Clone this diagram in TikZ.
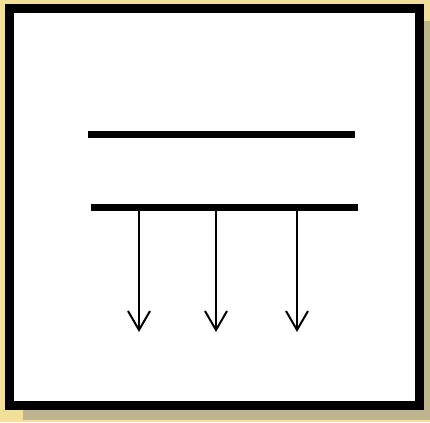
\documentclass[tikz,border=0pt]{standalone}
\usetikzlibrary{arrows.meta}
\definecolor{bgyellow}{RGB}{243,224,152}
\definecolor{shadowtan}{RGB}{190,181,143}
\begin{document}
\begin{tikzpicture}[x=1pt,y=-1pt,
  plate/.style={line width=7pt},
  ray/.style={line width=2pt,-{Straight Barb[length=19pt,width=22pt,line width=2pt]}}]
\fill[bgyellow] (0,0) rectangle (430,422);
\useasboundingbox (0,0) rectangle (430,422);
\fill[shadowtan] (23,21) rectangle (430,420);
\draw[line width=9pt,fill=white] (9.5,8.5) rectangle (419.5,405.5);
% plates
\coordinate (t1) at (88,134.5);
\coordinate (t2) at (355,134.5);
\coordinate (b1) at (91,207);
\coordinate (b2) at (358,207);
\draw[plate] (t1) -- (t2);
\draw[plate] (b1) -- (b2);
% arrows
\foreach \x/\n in {139/a,216/b,297/c}{
  \coordinate (\n s) at (\x,210.5);
  \coordinate (\n e) at (\x,332);
  \draw[ray] (\n s) -- (\n e);
}
\end{tikzpicture}
\end{document}
